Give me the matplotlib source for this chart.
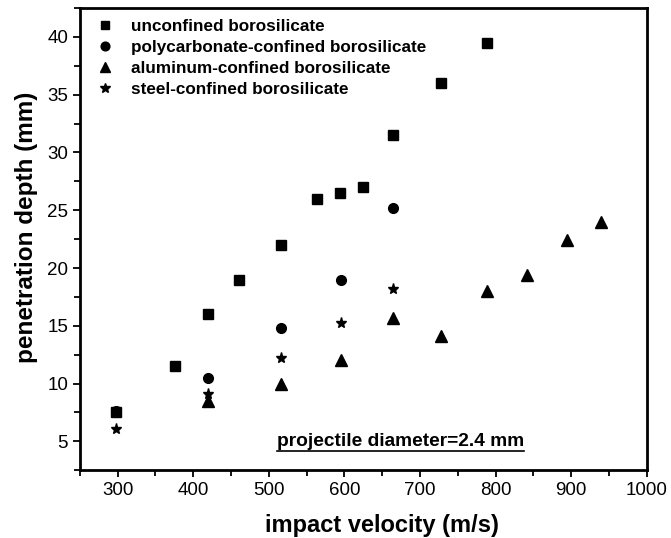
import matplotlib
matplotlib.use("Agg")
import matplotlib.pyplot as plt

plt.rcParams["font.family"] = ["Liberation Sans", "DejaVu Sans"]

# Data
unconf_v = [298, 376, 420, 460, 516, 564, 594, 624, 664, 728, 788]
unconf_d = [7.5, 11.5, 16.0, 19.0, 22.0, 26.0, 26.5, 27.0, 31.5, 36.0, 39.5]

poly_v = [298, 420, 516, 596, 664]
poly_d = [7.6, 10.5, 14.8, 19.0, 25.2]

alu_v = [420, 516, 596, 664, 728, 788, 842, 894, 940]
alu_d = [8.5, 10.0, 12.0, 15.7, 14.1, 18.0, 19.4, 22.4, 24.0]

steel_v = [298, 420, 516, 596, 664]
steel_d = [6.1, 9.1, 12.2, 15.2, 18.2]

fig = plt.figure(figsize=(6.71, 5.38), dpi=100)
ax = fig.add_axes([0.119, 0.126, 0.845, 0.859])

ax.plot(unconf_v, unconf_d, "ks", ms=6.5, ls="none", label="unconfined borosilicate")
ax.plot(poly_v, poly_d, "ko", ms=7, ls="none", label="polycarbonate-confined borosilicate")
ax.plot(alu_v, alu_d, "k^", ms=8, ls="none", label="aluminum-confined borosilicate")
ax.plot(steel_v, steel_d, "k*", ms=8, ls="none", label="steel-confined borosilicate")

ax.set_xlim(250, 1000)
ax.set_ylim(2.5, 42.5)
ax.set_xticks(range(300, 1001, 100))
ax.set_xticks(range(250, 1001, 50), minor=True)
ax.set_yticks(range(5, 41, 5))
ax.set_yticks([2.5 + 2.5 * i for i in range(17)], minor=True)
ax.tick_params(which="both", direction="out", top=False, right=False,
               labelsize=13.5, width=1.3)
ax.tick_params(which="major", length=5)
ax.tick_params(which="minor", length=4)
for s in ax.spines.values():
    s.set_linewidth(2)

ax.set_xlabel("impact velocity (m/s)", fontsize=17, fontweight="bold")
ax.xaxis.set_label_coords(0.532, -0.094)
ax.set_ylabel("penetration depth (mm)", fontsize=17.5, fontweight="bold")
ax.yaxis.set_label_coords(-0.073, 0.525)

leg = ax.legend(loc="upper left", bbox_to_anchor=(0.011, 0.995), frameon=False,
                prop={"weight": "bold", "size": 12.3},
                handletextpad=0.9, labelspacing=0.36, borderaxespad=0.3,
                handlelength=1.2, markerscale=0.9, borderpad=0.2)

txt = ax.text(674, 5.0, "projectile diameter=2.4 mm", ha="center", va="center",
              fontsize=13.8, fontweight="bold")
fig.canvas.draw()
bb = txt.get_window_extent().transformed(fig.transFigure.inverted())
fig.add_artist(plt.Line2D([bb.x0, bb.x1], [bb.y0 - 0.002, bb.y0 - 0.002],
                          color="k", lw=1.2, transform=fig.transFigure))

fig.savefig("out.png", dpi=100)
